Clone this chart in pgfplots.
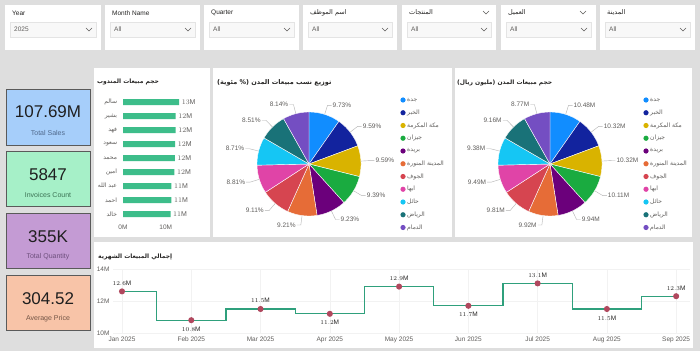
\documentclass[border=0pt]{standalone}
\usepackage{pgfplots}
\pgfplotsset{compat=1.18}
\usepackage{fontspec}
\setmainfont{Liberation Sans}
\newfontfamily\arabicfont[Script=Arabic]{DejaVu Sans}
\TeXXeTstate=1
\newcommand{\AR}[1]{{\arabicfont\beginR #1\endR}}

\definecolor{bg}{RGB}{222,222,222}
\definecolor{c1}{HTML}{118DFF}
\definecolor{c2}{HTML}{12239E}
\definecolor{c3}{HTML}{D9B300}
\definecolor{c4}{HTML}{1AAB40}
\definecolor{c5}{HTML}{6B007B}
\definecolor{c6}{HTML}{E66C37}
\definecolor{c7}{HTML}{D64550}
\definecolor{c8}{HTML}{E044A7}
\definecolor{c9}{HTML}{15C6F4}
\definecolor{c10}{HTML}{197278}
\definecolor{c11}{HTML}{744EC2}
\definecolor{barg}{HTML}{3DBD8A}
\definecolor{lineg}{HTML}{2FA07C}
\definecolor{dotr}{HTML}{B0485E}
\definecolor{txt}{HTML}{605E5C}
\definecolor{ttl}{HTML}{252423}
\definecolor{dd}{RGB}{248,248,248}
\definecolor{ddb}{RGB}{228,228,228}
\definecolor{kb}{RGB}{166,206,250}
\definecolor{kg}{RGB}{166,240,200}
\definecolor{kp}{RGB}{196,155,212}
\definecolor{ks}{RGB}{248,196,168}
\definecolor{kbor}{RGB}{90,90,90}
\definecolor{kbt}{RGB}{80,105,140}
\definecolor{kgt}{RGB}{60,115,85}
\definecolor{kpt}{RGB}{110,80,125}
\definecolor{kst}{RGB}{115,85,70}

\newcommand{\filter}[4]{%
  \fill[white] (#1,346) rectangle (#2,301);
  \node[anchor=west, inner sep=0, font=\fontsize{6.5}{7}\selectfont, text=ttl] at (#1+7,338) {#3};
  \filldraw[fill=dd, draw=ddb, line width=0.4pt] (#1+5,329) rectangle (#2-5,314);
  \node[anchor=west, inner sep=0, font=\fontsize{6.5}{7}\selectfont, text=txt] at (#1+9,321.5) {#4};
  \draw[txt, line width=0.4pt] (#2-15,323) -- (#2-12,320) -- (#2-9,323);
}
\newcommand{\kpi}[9]{% y0,y1,fill,number,numcol,sub,subcol,ynum,ysub
  \filldraw[fill=#3, draw=kbor, line width=0.8pt] (6,#1) rectangle (90,#2);
  \node[font=\fontsize{17}{18}\selectfont, text=#5] at (48,#8) {#4};
  \node[font=\fontsize{7}{8}\selectfont, text=#7] at (48,#9) {#6};
}
% start, value, total, color
\newcommand{\slice}[4]{%
  \addplot[fill=#4, draw=white, line width=0.4pt, samples at={0,...,41}, variable=\t]
   ({(\t>0.5)*(\t<40.5)*cos(90-360*((#1)/(#3)+(\t-1)*(#2)/(39*(#3))))},
    {(\t>0.5)*(\t<40.5)*sin(90-360*((#1)/(#3)+(\t-1)*(#2)/(39*(#3))))});
}
% cx, cy, start, value, total, text
\newcommand{\plabel}[6]{%
  \pgfmathsetmacro\pfrac{(#3+0.5*(#4))/(#5)}%
  \pgfmathsetmacro\pang{90-360*\pfrac}%
  \pgfmathsetmacro\pcos{cos(\pang)}%
  \ifdim\pcos pt>0pt
    \draw[gray!60, line width=0.4pt] (#1,#2) ++(\pang:52pt) -- ++(\pang:9.5pt) -- ++(4pt,0) node[anchor=west, inner sep=1pt, font=\fontsize{6.5}{7}\selectfont, text=txt]{#6};
  \else
    \draw[gray!60, line width=0.4pt] (#1,#2) ++(\pang:52pt) -- ++(\pang:9.5pt) -- ++(-4pt,0) node[anchor=east, inner sep=1pt, font=\fontsize{6.5}{7}\selectfont, text=txt]{#6};
  \fi
}
\newcommand{\legend}[1]{%
  \foreach \col/\nm [count=\k] in {c1/{جدة},c2/{الخبر},c3/{مكة المكرمة},c4/{جيزان},c5/{بريدة},c6/{المدينة المنورة},c7/{الجوف},c8/{ابها},c9/{حائل},c10/{الرياض},c11/{الدمام}}{
    \fill[\col] (#1,{251-12.75*(\k-1)}) circle (2.6pt);
    \node[anchor=west, inner sep=0, font=\fontsize{6}{7}\selectfont, text=txt] at (#1+4,{251-12.75*(\k-1)}) {\AR{\nm}};
  }
}

\begin{document}
\begin{tikzpicture}[x=1pt,y=1pt]
\fill[bg] (0,0) rectangle (700,351);
% filters
\filter{5}{101}{Year}{2025}
\filter{105}{200}{Month Name}{All}
\filter{204}{299}{Quarter}{All}
\filter{303}{397}{\AR{اسم الموظف}}{All}
\filter{402}{496}{\AR{المنتجات}}{All}
\filter{501}{596}{\AR{العميل}}{All}
\filter{600}{695}{\AR{المدينة}}{All}
\draw[txt, line width=0.4pt] (483,340) -- (486,337) -- (489,340);
\draw[txt, line width=0.4pt] (580,340) -- (583,337) -- (586,340);

% KPI cards
\kpi{262}{206}{kb}{107.69M}{black!88}{Total Sales}{kbt}{239}{218}
\kpi{200}{145}{kg}{5847}{black!88}{Invoices Count}{kgt}{176}{156}
\kpi{138}{83}{kp}{355K}{black!88}{Total Quantity}{kpt}{114}{94}
\kpi{76}{21}{ks}{304.52}{black!88}{Average Price}{kst}{52}{32}

% panels
\fill[white] (94,283) rectangle (210,114);
\fill[white] (213,283) rectangle (452,114);
\fill[white] (455,283) rectangle (692,114);
\fill[white] (94,109) rectangle (693,3);

% titles
\node[anchor=west, inner sep=0, font=\fontsize{6}{7}\selectfont\bfseries, text=ttl] at (97,269) {\AR{حجم مبيعات المندوب}};
\node[anchor=west, inner sep=0, font=\fontsize{6.5}{7}\selectfont\bfseries, text=ttl] at (217,268) {\AR{توزيع نسب مبيعات المدن (\% مئوية)}};
\node[anchor=west, inner sep=0, font=\fontsize{6}{7}\selectfont\bfseries, text=ttl] at (457,268) {\AR{حجم مبيعات المدن (مليون ريال)}};
\node[anchor=west, inner sep=0, font=\fontsize{6}{7}\selectfont\bfseries, text=ttl] at (98,94) {\AR{إجمالي المبيعات الشهرية}};

% bar chart
\begin{axis}[at={(123pt,193pt)}, anchor=west, scale only axis, width=64.2pt, height=126pt,
  xbar, bar width=6pt, xmin=0, xmax=15, ymin=-0.5, ymax=8.5, y dir=reverse,
  ytick={0,...,8},
  yticklabels={\AR{سالم},\AR{بشير},\AR{فهد},\AR{سعود},\AR{محمد},\AR{امين},\AR{عبد الله},\AR{احمد},\AR{خالد}},
  xtick={0,10}, xticklabels={0M,10M},
  axis line style={draw=none}, tick style={draw=none},
  yticklabel style={font=\fontsize{6}{7}\selectfont, text=txt, inner sep=1.5pt},
  xticklabel style={font=\fontsize{6.5}{7}\selectfont, text=txt},
  point meta=x, clip=false,
  nodes near coords={\pgfmathprintnumber[fixed,precision=0]{\pgfplotspointmeta}M},
  nodes near coords style={font=\fontsize{7}{8}\selectfont, text=txt, anchor=west, inner sep=2.5pt}]
\addplot[fill=barg, draw=none] coordinates {(13.1,0) (12.3,1) (12.3,2) (12.2,3) (12.1,4) (12.0,5) (11.3,6) (11.3,7) (11.1,8)};
\end{axis}

% pie 1 (percent)
\begin{axis}[at={(309pt,187pt)}, anchor=center, x=52pt, y=52pt, xmin=-1, xmax=1, ymin=-1, ymax=1, hide axis, clip=false]
\slice{0}{9.73}{100.02}{c1}
\slice{9.73}{9.59}{100.02}{c2}
\slice{19.32}{9.59}{100.02}{c3}
\slice{28.91}{9.39}{100.02}{c4}
\slice{38.30}{9.23}{100.02}{c5}
\slice{47.53}{9.21}{100.02}{c6}
\slice{56.74}{9.11}{100.02}{c7}
\slice{65.85}{8.81}{100.02}{c8}
\slice{74.66}{8.71}{100.02}{c9}
\slice{83.37}{8.51}{100.02}{c10}
\slice{91.88}{8.14}{100.02}{c11}
\end{axis}
\plabel{309}{187}{0}{9.73}{100.02}{9.73\%}
\plabel{309}{187}{9.73}{9.59}{100.02}{9.59\%}
\plabel{309}{187}{19.32}{9.59}{100.02}{9.59\%}
\plabel{309}{187}{28.91}{9.39}{100.02}{9.39\%}
\plabel{309}{187}{38.30}{9.23}{100.02}{9.23\%}
\plabel{309}{187}{47.53}{9.21}{100.02}{9.21\%}
\plabel{309}{187}{56.74}{9.11}{100.02}{9.11\%}
\plabel{309}{187}{65.85}{8.81}{100.02}{8.81\%}
\plabel{309}{187}{74.66}{8.71}{100.02}{8.71\%}
\plabel{309}{187}{83.37}{8.51}{100.02}{8.51\%}
\plabel{309}{187}{91.88}{8.14}{100.02}{8.14\%}
\legend{403}

% pie 2 (millions)
\begin{axis}[at={(550pt,187pt)}, anchor=center, x=52pt, y=52pt, xmin=-1, xmax=1, ymin=-1, ymax=1, hide axis, clip=false]
\slice{0}{10.48}{107.70}{c1}
\slice{10.48}{10.32}{107.70}{c2}
\slice{20.80}{10.32}{107.70}{c3}
\slice{31.12}{10.11}{107.70}{c4}
\slice{41.23}{9.94}{107.70}{c5}
\slice{51.17}{9.92}{107.70}{c6}
\slice{61.09}{9.81}{107.70}{c7}
\slice{70.90}{9.49}{107.70}{c8}
\slice{80.39}{9.38}{107.70}{c9}
\slice{89.77}{9.16}{107.70}{c10}
\slice{98.93}{8.77}{107.70}{c11}
\end{axis}
\plabel{550}{187}{0}{10.48}{107.70}{10.48M}
\plabel{550}{187}{10.48}{10.32}{107.70}{10.32M}
\plabel{550}{187}{20.80}{10.32}{107.70}{10.32M}
\plabel{550}{187}{31.12}{10.11}{107.70}{10.11M}
\plabel{550}{187}{41.23}{9.94}{107.70}{9.94M}
\plabel{550}{187}{51.17}{9.92}{107.70}{9.92M}
\plabel{550}{187}{61.09}{9.81}{107.70}{9.81M}
\plabel{550}{187}{70.90}{9.49}{107.70}{9.49M}
\plabel{550}{187}{80.39}{9.38}{107.70}{9.38M}
\plabel{550}{187}{89.77}{9.16}{107.70}{9.16M}
\plabel{550}{187}{98.93}{8.77}{107.70}{8.77M}
\legend{646}

% line chart
\begin{axis}[at={(113pt,18pt)}, anchor=south west, scale only axis, width=577pt, height=64pt,
  xmin=-0.13, xmax=8.2, ymin=10, ymax=14,
  ytick={10,12,14}, yticklabels={10M,12M,14M},
  xtick={0,...,8},
  xticklabels={Jan 2025,Feb 2025,Mar 2025,Apr 2025,May 2025,Jun 2025,Jul 2025,Aug 2025,Sep 2025},
  axis line style={draw=none}, tick style={draw=none},
  grid=major, grid style={gray!10, line width=0.3pt},
  yticklabel style={font=\fontsize{6.5}{7}\selectfont, text=txt},
  xticklabel style={font=\fontsize{6.5}{7}\selectfont, text=txt},
  clip=false]
\addplot[const plot mark mid, lineg, line width=1.2pt, mark=*, mark size=2.4pt, mark options={fill=dotr, draw=dotr}]
  coordinates {(0,12.6) (1,10.8) (2,11.5) (3,11.2) (4,12.9) (5,11.7) (6,13.1) (7,11.5) (8,12.3)};
\addplot[draw=none, mark=none, point meta=y,
  nodes near coords={\pgfmathprintnumber[fixed,precision=1,fixed zerofill]{\pgfplotspointmeta}M},
  nodes near coords style={font=\fontsize{6.5}{7}\selectfont, text=ttl, anchor=south, yshift=2.5pt}]
  coordinates {(0,12.6) (2,11.5) (4,12.9) (6,13.1) (8,12.3)};
\addplot[draw=none, mark=none, point meta=y,
  nodes near coords={\pgfmathprintnumber[fixed,precision=1,fixed zerofill]{\pgfplotspointmeta}M},
  nodes near coords style={font=\fontsize{6.5}{7}\selectfont, text=ttl, anchor=north, yshift=-3pt}]
  coordinates {(1,10.8) (3,11.2) (5,11.7) (7,11.5)};
\end{axis}
\end{tikzpicture}
\end{document}
